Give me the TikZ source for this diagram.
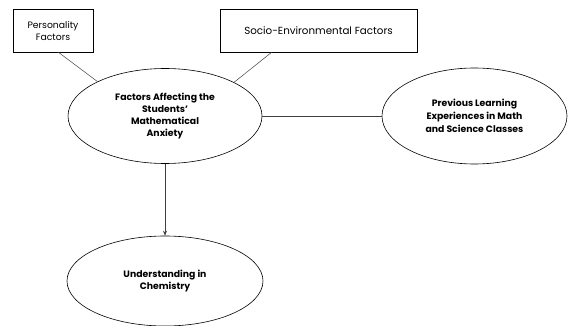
\documentclass[tikz,border=0pt]{standalone}
\usepackage{fontspec}
\setmainfont{Poppins}
\usetikzlibrary{shapes.geometric,arrows.meta}
\begin{document}
\begin{tikzpicture}[x=1pt,y=-1pt,
  box/.style={draw,line width=0.6pt,minimum width=#1,minimum height=43pt,align=center,font=\fontsize{9.3}{12}\selectfont,inner sep=0pt},
  oval/.style={draw,line width=0.6pt,ellipse,align=center,font=\fontsize{9.3}{12}\selectfont\bfseries,inner sep=0pt},
  conn/.style={line width=0.5pt,draw=black!75}]
\useasboundingbox (0,0) rectangle (568,326);
\node[box=80pt] (pers) at (53,31) {Personality\\Factors};
\node[box=197pt,font=\fontsize{10.3}{12}\selectfont] (socio) at (318.5,31) {Socio-Environmental Factors};
\node[oval,minimum width=194pt,minimum height=95pt] (main) at (165,116) {Factors Affecting the\\Students'\\Mathematical\\Anxiety};
\node[oval,minimum width=185pt,minimum height=96pt,font=\fontsize{9.3}{13}\selectfont\bfseries] (prev) at (474.5,116) {Previous Learning\\Experiences in Math\\and Science Classes};
\node[oval,minimum width=196pt,minimum height=90pt] (under) at (165,281) {Understanding in\\Chemistry};
\draw[conn] (58,52) -- (main.153);
\draw[conn] (272,52) -- (main.26);
\draw[conn] (main.east) -- (prev.west);
\draw[conn,-{Stealth[length=5pt,width=4pt]}] (main.south) -- (under.north);
\end{tikzpicture}
\end{document}
